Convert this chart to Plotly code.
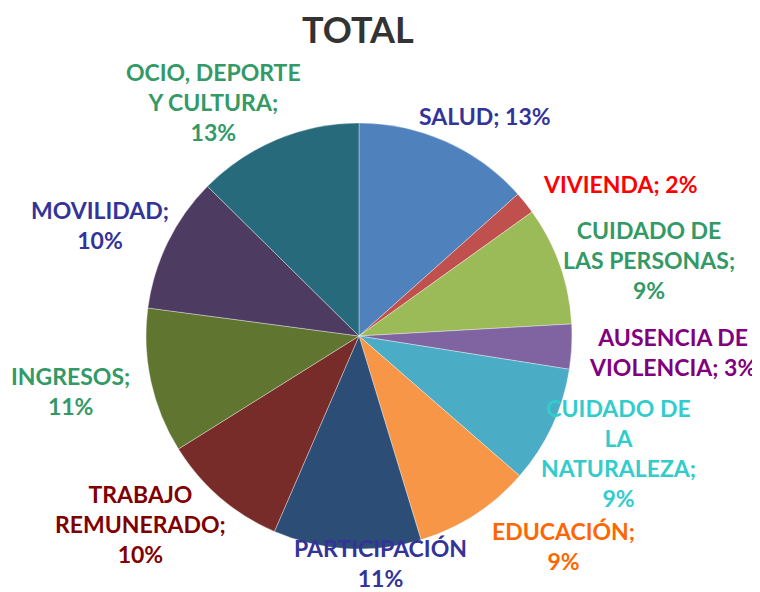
import plotly.graph_objects as go

categories = ["SALUD", "VIVIENDA", "CUIDADO DE<br>LAS PERSONAS;", "AUSENCIA DE<br>VIOLENCIA;",
              "CUIDADO DE<br>LA<br>NATURALEZA;", "EDUCACIÓN;", "PARTICIPACIÓN", "TRABAJO<br>REMUNERADO;",
              "INGRESOS;", "MOVILIDAD;", "OCIO, DEPORTE<br>Y CULTURA;"]
values = [13.4, 1.7, 9.0, 3.4, 8.9, 8.9, 11.2, 9.6, 11.0, 10.3, 12.6]
pct_labels = ["13%", "2%", "9%", "3%", "9%", "9%", "11%", "10%", "11%", "10%", "13%"]
separators = ["; ", "; ", "<br>", " ", "<br>", "<br>", "<br>", "<br>", "<br>", "<br>", "<br>"]

slice_colors = ["#4F81BD", "#C0504D", "#9BBB59", "#8064A2", "#4BACC6", "#F79646",
                "#2C4D75", "#772C2A", "#5F7530", "#4D3B62", "#276A7C"]
label_colors = ["#333399", "#FF0000", "#339966", "#800080", "#33CCCC", "#FF6600",
                "#333399", "#800000", "#339966", "#333399", "#339966"]
label_pos = [(485, 116), (620, 184), (649, 260), (672, 352), (618, 453), (563, 546),
             (380, 563), (140, 524), (71, 391), (100, 225), (213, 102)]

W, H = 760, 592
OFF = 8  # page body margin offset
cx, cy, r = 359 - OFF, 336 - OFF, 213

fig = go.Figure(go.Pie(
    labels=[c.replace("<br>", " ") for c in categories],
    values=values,
    sort=False,
    direction="clockwise",
    rotation=0,
    marker=dict(colors=slice_colors, line=dict(color="rgba(255,255,255,0.6)", width=0.6)),
    textinfo="none",
    hoverinfo="label+percent",
    showlegend=False,
    domain=dict(x=[(cx - r) / W, (cx + r) / W], y=[(H - cy - r) / H, (H - cy + r) / H]),
))

annotations = [dict(text="<b>TOTAL</b>", x=(358 - OFF) / W, y=1 - (29 - OFF) / H, xref="paper", yref="paper",
                    showarrow=False, xanchor="center", yanchor="middle",
                    font=dict(family="Lato", size=36, color="#333333"))]
for cat, pct, sep, col, (px, py) in zip(categories, pct_labels, separators, label_colors, label_pos):
    txt = cat + sep + pct
    annotations.append(dict(text="<b>" + txt + "</b>", x=(px - OFF) / W, y=1 - (py - OFF) / H,
                            xref="paper", yref="paper",
                            showarrow=False, xanchor="center", yanchor="middle", align="center",
                            font=dict(family="Lato", size=23, color=col)))

fig.update_layout(width=W, height=H, margin=dict(l=0, r=0, t=0, b=0),
                  paper_bgcolor="white", plot_bgcolor="white", annotations=annotations)
fig.write_html("out.html")
